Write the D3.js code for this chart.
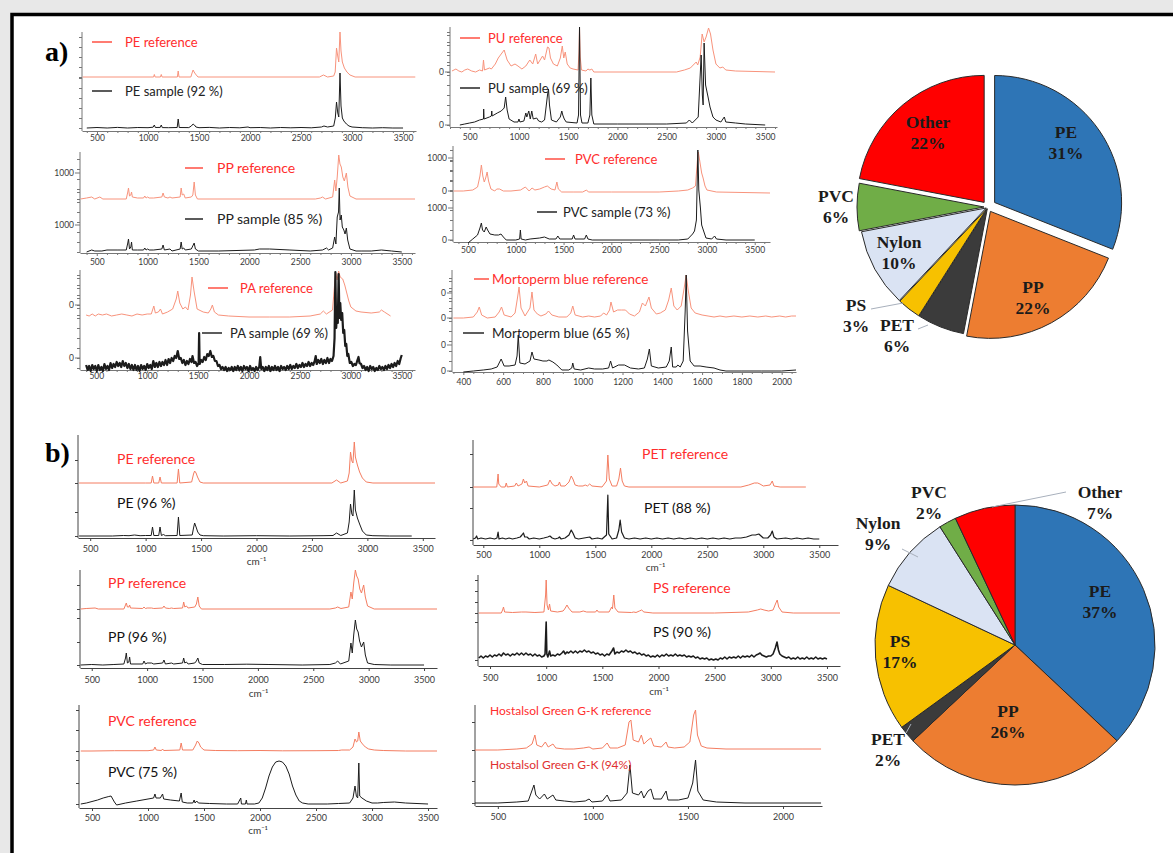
<!DOCTYPE html>
<html><head><meta charset="utf-8">
<script src="https://cdn.jsdelivr.net/npm/d3@7"></script>
<style>body{margin:0;background:#e8e8e8}svg{display:block}</style>
</head><body><svg id="c" width="1173" height="853"></svg>
<script>
// ---------------- DATA (wavenumber cm-1, relative intensity) ----------------
const xTicksFull = [500,1000,1500,2000,2500,3000,3500];
const xTicksMB = [400,600,800,1000,1200,1400,1600,1800,2000];
const xTicksHG = [500,1000,1500,2000];

const peRefA = [[360,0],[1000,0],[1055,0],[1062,2.5],[1070,0],[1122,0],[1130,2.5],[1138,0],[1288,0],[1296,6],[1304,0],[1420,0],[1432,4],[1442,7],[1452,5],[1465,3],[1490,0],[2680,0],[2720,2],[2760,0],[2820,1],[2835,5],[2848,29],[2858,22],[2870,15],[2882,45],[2892,26],[2905,15],[2925,9],[2950,5],[2980,2],[3030,0],[3620,0]];
const peSmpA = [[400,0],[500,0.5],[600,0],[700,0.6],[800,0],[900,0.5],[1000,0.3],[1050,0.8],[1062,3],[1072,0.5],[1120,0.6],[1130,3],[1140,0.4],[1200,0.3],[1286,0.5],[1296,9],[1306,0.5],[1400,0.4],[1425,2],[1442,4],[1455,3],[1470,1],[1500,0.3],[1600,0.6],[1700,0],[1800,0.5],[1900,0.2],[1980,1],[2000,0.3],[2100,0.5],[2200,0],[2300,0.5],[2400,0.2],[2500,0.5],[2600,0.2],[2700,1],[2725,2],[2760,1],[2820,2],[2836,10],[2848,26],[2860,15],[2870,11],[2882,55],[2892,22],[2905,10],[2920,7],[2945,4],[2970,2],[3000,1],[3100,0.3],[3200,0],[3300,0.3],[3400,0],[3500,0]];

const puRefA = [[320,1],[360,3],[390,1],[420,0],[450,2],[480,3],[520,1],[560,0],[600,2],[630,1],[640,12],[650,2],[700,4],[720,3],[760,8],[790,14],[820,18],[850,22],[865,17],[880,12],[920,6],[960,8],[990,6],[1030,3],[1070,6],[1110,12],[1140,8],[1170,18],[1190,8],[1215,12],[1240,16],[1260,12],[1290,25],[1305,24],[1320,14],[1350,8],[1390,6],[1420,14],[1440,26],[1455,14],[1470,20],[1490,8],[1520,4],[1550,3],[1600,2],[1610,20],[1615,45],[1622,15],[1635,2],[1680,1],[1700,3],[1720,2],[1740,3],[1760,0],[2600,0],[2680,2],[2740,4],[2780,8],[2800,10],[2815,7],[2840,15],[2860,38],[2880,30],[2900,35],[2925,44],[2945,38],[2970,22],[3000,8],[3040,4],[3070,5],[3100,2],[3200,1],[3600,0]];
const puSmpA = [[400,0],[450,1],[500,2],[550,3],[600,5],[640,6],[642,16],[646,6],[700,8],[720,9],[724,14],[728,9],[780,12],[820,14],[850,17],[865,28],[880,15],[900,6],[950,3],[990,3],[1000,6],[1010,3],[1050,4],[1070,12],[1080,8],[1100,14],[1115,6],[1130,14],[1145,6],[1180,7],[1200,4],[1230,3],[1260,5],[1290,30],[1300,36],[1310,20],[1330,5],[1380,3],[1420,8],[1435,14],[1445,10],[1460,6],[1480,3],[1590,2],[1605,10],[1615,98],[1625,10],[1640,2],[1700,2],[1720,10],[1730,47],[1740,10],[1760,1],[2000,1],[2500,1],[2700,2],[2730,5],[2760,2],[2820,8],[2850,70],[2862,30],[2870,20],[2880,82],[2895,40],[2920,28],[2940,18],[2970,8],[3000,5],[3050,3],[3085,8],[3100,3],[3200,2],[3300,1],[3500,0]];

const ppRefA = [[340,0],[400,1],[450,2],[480,0],[530,2],[560,0],[790,0],[805,7],[812,11],[822,3],[835,4],[842,7],[850,2],[900,1],[960,1],[972,3],[985,1],[1000,2],[1015,1],[1060,1],[1140,2],[1152,6],[1165,2],[1200,1],[1220,2],[1240,1],[1320,2],[1330,11],[1340,4],[1355,5],[1370,1],[1430,2],[1445,4],[1458,17],[1470,4],[1490,0],[2650,0],[2700,1],[2720,2],[2750,0],[2820,2],[2840,19],[2852,8],[2865,22],[2880,44],[2892,35],[2905,32],[2920,22],[2935,18],[2955,26],[2970,12],[2990,3],[3050,0],[3630,0]];
const ppSmpA = [[400,0],[450,2],[480,1],[550,1],[600,2],[700,2],[790,2],[805,9],[812,13],[822,3],[835,5],[842,10],[850,2],[900,2],[960,2],[972,4],[985,2],[1000,3],[1015,2],[1060,2],[1140,3],[1152,7],[1165,2],[1220,3],[1240,1],[1320,3],[1330,10],[1340,3],[1355,4],[1370,2],[1430,3],[1458,9],[1470,3],[1500,1],[1700,1],[2050,2],[2100,3],[2200,3],[2400,2],[2600,1],[2720,2],[2760,4],[2780,2],[2820,4],[2840,15],[2852,8],[2865,35],[2878,40],[2885,64],[2893,32],[2905,37],[2915,25],[2930,22],[2942,18],[2955,24],[2968,12],[2990,3],[3050,1],[3100,1],[3200,1],[3300,2],[3400,1],[3500,0]];

const pvcRefA = [[350,0],[450,0],[550,1],[600,4],[625,15],[640,26],[655,15],[670,9],[685,13],[700,19],[715,10],[740,2],[780,0],[800,2],[830,2],[870,0],[950,0],[1050,1],[1100,4],[1140,0],[1170,3],[1200,1],[1250,2],[1300,4],[1330,5],[1370,2],[1410,1],[1430,9],[1445,2],[1480,-1],[1600,-1],[1700,-1],[1740,1],[1760,-1],[2000,-1],[2500,-1],[2700,0],[2800,1],[2850,3],[2880,5],[2900,30],[2910,39],[2925,30],[2945,18],[2960,13],[2980,5],[3000,1],[3100,-1],[3660,-2]];
const pvcSmpA = [[500,-3],[550,1],[600,5],[625,12],[640,17],[652,10],[670,8],[690,13],[705,10],[730,6],[780,5],[820,5],[845,6],[870,3],[900,0],[1000,0],[1040,1],[1048,10],[1056,1],[1100,0],[1150,1],[1250,2],[1300,3],[1350,1],[1420,1],[1440,4],[1460,1],[1590,1],[1605,5],[1620,1],[1720,1],[1738,5],[1755,1],[1800,0],[2500,0],[2700,0],[2800,1],[2850,6],[2870,9],[2890,20],[2905,90],[2915,50],[2932,32],[2945,15],[2962,10],[2990,2],[3050,1],[3080,4],[3100,1],[3200,0],[3500,0]];

const paRefA = [[400,0],[430,-1],[460,1],[490,-1],[520,1],[560,0],[600,1],[650,-1],[700,0],[750,1],[800,0],[850,-1],[900,1],[950,0],[1000,1],[1040,1],[1065,9],[1080,2],[1110,3],[1130,6],[1150,1],[1200,3],[1250,6],[1285,16],[1300,24],[1320,12],[1350,6],[1375,8],[1400,5],[1425,20],[1440,38],[1460,24],[1490,6],[1550,3],[1600,2],[1625,6],[1640,10],[1660,3],[1700,0],[1800,-1],[2000,-2],[2200,-2],[2400,-2],[2600,-1],[2700,1],[2730,4],[2760,1],[2820,5],[2840,30],[2852,42],[2865,35],[2880,44],[2895,38],[2920,36],[2940,30],[2960,22],[2980,14],[3000,8],[3050,4],[3100,3],[3200,2],[3280,3],[3300,5],[3330,3],[3390,-1]];
const paSmpA = [[400,3],[415,-2],[430,2],[445,-3],[460,3],[475,-1],[490,2],[505,-3],[520,3],[535,-2],[550,1],[565,-3],[580,4],[595,-1],[610,2],[625,-2],[640,5],[655,0],[670,4],[685,1],[700,6],[715,2],[730,5],[745,1],[760,7],[775,2],[790,5],[805,0],[820,4],[835,-1],[850,3],[865,-2],[880,3],[895,-2],[910,2],[925,-3],[940,3],[955,-1],[970,2],[985,-2],[1000,4],[1015,0],[1030,3],[1045,-1],[1060,7],[1075,1],[1090,5],[1105,1],[1120,6],[1135,2],[1150,6],[1165,3],[1180,8],[1195,3],[1210,9],[1225,5],[1240,10],[1255,7],[1270,12],[1285,10],[1300,17],[1315,9],[1330,10],[1345,5],[1360,8],[1375,3],[1390,7],[1405,4],[1420,9],[1435,6],[1445,12],[1460,5],[1475,6],[1490,2],[1505,5],[1510,35],[1515,4],[1530,8],[1545,6],[1560,11],[1575,8],[1590,14],[1605,12],[1620,17],[1635,11],[1650,12],[1665,7],[1680,7],[1695,2],[1710,3],[1725,-1],[1740,1],[1755,-2],[1770,1],[1785,-3],[1800,0],[1815,-2],[1830,1],[1845,-3],[1860,1],[1875,-2],[1890,2],[1905,-2],[1920,1],[1935,-3],[1950,2],[1965,-1],[1980,1],[1995,-3],[2010,2],[2025,-2],[2040,0],[2055,-3],[2070,1],[2085,-2],[2100,1],[2110,11],[2120,-1],[2135,1],[2150,-3],[2165,1],[2180,-2],[2195,2],[2210,-3],[2225,1],[2240,-2],[2255,2],[2270,-2],[2285,1],[2300,-3],[2315,2],[2330,-1],[2345,1],[2360,-2],[2375,2],[2390,-1],[2405,3],[2420,-1],[2435,2],[2450,0],[2465,4],[2480,0],[2495,3],[2510,1],[2525,5],[2540,1],[2555,4],[2570,2],[2585,6],[2600,2],[2615,5],[2630,3],[2645,7],[2655,12],[2665,4],[2680,8],[2695,5],[2710,9],[2725,4],[2740,8],[2755,5],[2770,10],[2785,5],[2800,9],[2815,7],[2830,12],[2840,30],[2848,96],[2856,40],[2864,55],[2872,45],[2880,94],[2888,50],[2896,65],[2905,48],[2915,55],[2925,35],[2935,38],[2945,22],[2955,24],[2965,12],[2975,14],[2990,5],[3005,6],[3020,2],[3035,4],[3050,3],[3065,8],[3075,11],[3085,5],[3100,4],[3115,0],[3130,2],[3145,-2],[3160,1],[3175,-3],[3190,2],[3205,-1],[3220,1],[3235,-3],[3250,0],[3265,-2],[3280,2],[3295,-1],[3310,1],[3325,-2],[3340,2],[3355,-1],[3370,3],[3385,0],[3400,4],[3415,1],[3430,5],[3445,2],[3460,7],[3475,4],[3490,10],[3500,13]];

const mbRefA = [[350,0],[400,0],[450,1],[470,6],[480,11],[492,3],[520,0],[560,1],[580,6],[592,11],[605,3],[640,1],[660,5],[672,20],[680,31],[690,10],[710,2],[735,10],[745,26],[755,8],[772,4],[790,2],[815,4],[828,7],[845,3],[880,1],[920,1],[940,5],[950,12],[962,3],[1000,1],[1030,2],[1060,1],[1090,2],[1105,5],[1120,3],[1135,8],[1142,16],[1155,6],[1175,8],[1195,8],[1215,8],[1235,4],[1260,2],[1285,6],[1300,15],[1315,12],[1333,21],[1345,10],[1370,4],[1390,5],[1415,8],[1432,18],[1445,30],[1458,12],[1475,8],[1495,12],[1510,30],[1520,43],[1530,28],[1545,10],[1565,5],[1600,3],[1630,2],[1660,1],[1690,2],[1720,1],[1760,2],[1800,1],[1840,2],[1880,1],[1920,2],[1950,1],[1990,2],[2020,1],[2050,2],[2072,2]];
const mbSmpA = [[400,-1],[450,0],[500,1],[540,2],[570,4],[590,12],[605,5],[630,5],[660,6],[670,15],[676,36],[684,8],[710,7],[735,10],[745,19],[755,12],[780,11],[800,10],[820,10],[830,11],[850,9],[870,6],[895,1],[930,1],[945,3],[950,8],[957,2],[990,1],[1030,3],[1060,2],[1100,2],[1130,3],[1140,10],[1150,3],[1180,6],[1210,6],[1240,3],[1280,2],[1310,3],[1325,12],[1335,22],[1345,5],[1380,3],[1420,4],[1435,10],[1445,24],[1452,4],[1470,4],[1478,6],[1490,4],[1505,10],[1515,60],[1520,96],[1527,40],[1540,10],[1560,5],[1590,5],[1620,4],[1660,3],[1690,1],[1720,0],[1800,0],[1900,0],[2000,0],[2072,1]];

const peRefB = [[400,0],[1000,0],[1050,0],[1062,7],[1074,0],[1118,0],[1130,6],[1142,0],[1284,0],[1296,14],[1308,0],[1415,1],[1432,9],[1442,12],[1455,10],[1468,6],[1490,1],[1520,0],[2680,0],[2722,3],[2760,0],[2820,2],[2836,10],[2848,31],[2860,22],[2870,20],[2882,41],[2892,26],[2910,18],[2930,11],[2955,5],[2990,1],[3050,0],[3610,0]];
const peSmpB = [[400,0],[700,0],[800,0.5],[850,0.3],[900,1],[950,0.3],[1000,0.5],[1050,0.5],[1062,9],[1074,0.5],[1118,0.5],[1130,9],[1142,0.5],[1160,1.5],[1180,0.3],[1284,0.5],[1296,19],[1308,0.5],[1420,1],[1432,8],[1442,13],[1455,9],[1470,4],[1490,1],[1520,0.3],[1700,0],[2000,0.3],[2300,0],[2600,0.3],[2690,0.5],[2722,3],[2760,0.5],[2820,3],[2836,14],[2848,32],[2860,22],[2870,20],[2882,46],[2892,26],[2910,18],[2930,12],[2955,5],[2990,1],[3050,0.3],[3200,0],[3400,0]];

const petRefB = [[410,0],[620,0],[626,6],[632,13],[638,3],[660,0],[695,0],[705,4],[715,0],[780,1],[795,4],[810,1],[845,3],[858,8],[870,4],[885,6],[900,1],[1000,0],[1075,2],[1095,7],[1115,3],[1140,1],[1170,2],[1180,5],[1192,1],[1230,1],[1265,5],[1285,11],[1300,8],[1320,2],[1350,1],[1390,1],[1410,2],[1430,1],[1450,3],[1470,1],[1560,0],[1600,6],[1612,32],[1625,8],[1650,1],[1690,1],[1710,8],[1725,19],[1740,6],[1760,1],[1800,0],[2800,0],[2870,2],[2920,4],[2950,4],[2970,3],[3000,1],[3060,2],[3080,6],[3095,1],[3150,0],[3380,0]];
const petSmpB = [[410,1],[430,2],[440,4],[450,1],[480,2],[520,1],[560,2],[600,1],[622,2],[632,8],[640,1],[670,2],[700,1],[730,2],[760,1],[800,2],[830,3],[845,5],[858,7],[870,3],[890,3],[910,1],[950,2],[1000,1],[1040,2],[1075,3],[1095,4],[1115,2],[1140,1],[1170,2],[1180,3],[1195,1],[1230,2],[1265,5],[1285,10],[1300,7],[1320,2],[1350,1],[1400,2],[1450,3],[1470,1],[1520,2],[1560,1],[1600,5],[1612,45],[1620,6],[1650,1],[1690,2],[1710,10],[1722,20],[1735,8],[1760,2],[1800,1],[1850,2],[1900,1],[1950,2],[2000,1],[2050,2],[2100,1],[2150,2],[2200,1],[2250,2],[2300,1],[2350,2],[2400,1],[2450,2],[2500,1],[2550,2],[2600,1],[2650,2],[2700,1],[2750,2],[2800,2],[2850,3],[2900,5],[2930,5],[2960,6],[2980,4],[3000,2],[3040,2],[3065,5],[3080,9],[3095,3],[3120,1],[3200,2],[3250,1],[3300,2],[3350,1],[3400,2],[3450,1],[3500,1]];

const ppRefB = [[400,0],[450,0.5],[530,1],[560,0],[790,0],[805,4],[812,6],[822,2],[835,2],[842,4],[850,1],[960,0.5],[972,2],[985,0.5],[1000,1],[1040,1],[1060,0.5],[1140,1],[1152,3],[1165,1],[1200,0.5],[1220,1],[1240,0.5],[1320,1],[1330,7],[1340,2],[1355,3],[1370,1],[1430,2],[1445,5],[1458,12],[1470,3],[1490,0],[2650,0],[2700,1],[2720,2],[2750,0.5],[2820,2],[2840,17],[2852,10],[2865,26],[2880,39],[2892,33],[2905,30],[2920,20],[2935,16],[2955,24],[2970,12],[2990,3],[3050,0],[3617,0]];
const ppSmpB = [[400,0],[500,0.5],[600,0],[700,0.5],[790,1],[805,7],[812,12],[822,2],[835,3],[842,8],[850,1],[960,1],[972,4],[985,1],[1000,2],[1040,2],[1060,1],[1140,2],[1152,5],[1165,1],[1220,2],[1240,1],[1320,2],[1330,7],[1340,2],[1355,3],[1370,1],[1430,2],[1445,4],[1458,7],[1470,2],[1500,0.5],[1700,0.5],[1900,0.8],[2100,0.5],[2400,0],[2650,0.5],[2700,2],[2720,4],[2745,1],[2820,4],[2840,22],[2852,12],[2865,30],[2880,45],[2892,36],[2905,33],[2918,24],[2935,18],[2955,23],[2970,10],[2990,2],[3050,0.5],[3200,0],[3500,0]];

const psRefB = [[400,0],[600,0],[612,3],[620,6],[630,1],[700,0.5],[780,1],[820,1],[900,0.5],[980,1],[995,18],[1000,33],[1008,8],[1020,3],[1030,9],[1040,2],[1100,1],[1150,2],[1158,3],[1170,5],[1185,8],[1200,5],[1230,1],[1300,1],[1330,2],[1360,1],[1440,1],[1452,3],[1465,1],[1560,1],[1583,6],[1590,4],[1602,18],[1612,5],[1640,1],[1760,0.5],[1780,1],[1800,0.5],[1830,2],[1850,3],[1870,1],[1950,0],[2500,0],[2800,1],[2880,3],[2910,4],[2940,3],[2980,2],[3020,3],[3045,10],[3057,13],[3070,6],[3100,1],[3200,0],[3616,0]];
const psSmpB = [[400,2],[420,4],[440,2],[460,4],[480,3],[500,5],[520,3],[540,5],[560,4],[580,6],[600,4],[620,7],[640,5],[660,6],[680,4],[700,6],[720,5],[740,7],[760,5],[780,7],[800,5],[820,7],[840,5],[860,6],[880,4],[900,6],[920,4],[940,5],[960,3],[980,4],[990,6],[1000,38],[1006,6],[1015,3],[1030,9],[1040,4],[1060,5],[1080,4],[1100,6],[1120,5],[1140,7],[1155,9],[1170,6],[1185,8],[1200,7],[1220,9],[1240,7],[1260,9],[1280,7],[1300,9],[1320,8],[1340,10],[1360,8],[1380,9],[1400,7],[1420,8],[1440,6],[1460,7],[1480,5],[1500,6],[1520,4],[1540,6],[1560,5],[1585,9],[1600,12],[1612,6],[1630,8],[1650,7],[1670,9],[1690,8],[1710,10],[1730,8],[1750,9],[1770,7],[1790,8],[1810,6],[1830,7],[1850,5],[1870,6],[1890,4],[1910,5],[1930,3],[1950,4],[1970,3],[1990,5],[2010,3],[2030,5],[2050,4],[2070,6],[2090,4],[2110,5],[2130,4],[2150,6],[2170,4],[2190,5],[2210,4],[2230,5],[2250,3],[2270,4],[2290,3],[2310,4],[2330,2],[2350,3],[2370,1],[2390,2],[2410,1],[2430,2],[2450,0],[2470,1],[2490,0],[2510,1],[2530,0],[2550,2],[2570,1],[2590,3],[2610,1],[2630,3],[2650,2],[2670,3],[2690,2],[2710,4],[2730,2],[2750,4],[2770,3],[2790,4],[2810,3],[2830,5],[2850,3],[2870,5],[2890,6],[2905,7],[2920,5],[2940,4],[2960,3],[2980,4],[3000,4],[3020,6],[3040,12],[3055,18],[3068,10],[3080,6],[3100,4],[3120,3],[3140,2],[3160,3],[3180,1],[3200,2],[3220,1],[3240,3],[3260,1],[3280,2],[3300,1],[3320,3],[3340,1],[3360,2],[3380,1],[3400,3],[3420,1],[3440,2],[3460,1],[3480,2],[3500,1]];

const pvcRefB = [[400,0],[500,0],[700,0.3],[1000,0.3],[1050,1],[1062,4],[1074,1],[1120,0.5],[1130,2],[1140,0.5],[1284,1],[1296,8],[1308,1],[1400,1],[1425,6],[1440,10],[1455,8],[1470,4],[1500,1],[1600,0.5],[1800,0.3],[2000,0.5],[2200,0.2],[2500,0.3],[2700,0.5],[2730,1],[2800,1],[2830,4],[2848,12],[2862,9],[2872,10],[2882,19],[2895,10],[2915,7],[2940,4],[2970,2],[3020,1],[3100,0.5],[3300,0],[3580,0]];
const pvcSmpB = [[400,0],[450,1],[500,2.5],[550,4],[600,6],[650,7.5],[670,8],[700,2],[720,-1],[800,1],[900,3],[1000,5],[1050,6],[1062,10],[1072,6],[1110,6],[1130,10],[1140,5],[1200,4],[1280,3],[1296,11],[1306,2],[1350,1],[1400,1],[1412,4],[1420,1],[1435,3],[1450,1],[1550,0.5],[1700,0],[1800,0],[1828,6],[1834,0],[1870,0],[1878,4],[1884,0],[1950,0],[1990,1],[2020,6],[2050,16],[2080,28],[2110,37],[2140,42],[2170,43],[2200,42],[2230,38],[2260,30],[2290,18],[2320,9],[2350,3],[2380,1],[2430,0],[2600,0],[2700,0.5],[2800,1],[2830,6],[2848,18],[2860,8],[2872,6],[2882,41],[2890,8],[2910,6],[2950,3],[3000,1],[3050,1],[3100,1.5],[3200,2],[3300,1],[3500,0]];

const hgRefB = [[380,0],[500,0],[600,1],[650,2],[680,6],[695,15],[705,5],[730,3],[750,8],[765,3],[790,6],[805,2],[850,1],[900,1],[950,2],[980,3],[1000,1],[1050,2],[1075,7],[1090,2],[1130,2],[1170,5],[1190,28],[1200,30],[1212,10],[1240,8],[1255,15],[1268,6],[1290,10],[1305,12],[1320,4],[1360,3],[1385,8],[1395,3],[1430,2],[1480,3],[1510,8],[1530,35],[1540,40],[1550,15],[1570,4],[1600,2],[1700,1],[1800,1],[1900,1],[2000,1],[2100,1],[2200,1]];
const hgSmpB = [[380,0],[500,0],[600,1],[660,2],[690,18],[700,8],[720,4],[745,9],[760,4],[790,8],[805,3],[850,2],[900,1],[960,2],[980,4],[995,1],[1050,2],[1075,8],[1090,2],[1150,3],[1180,10],[1195,38],[1208,10],[1240,8],[1255,12],[1268,5],[1290,12],[1305,14],[1320,4],[1360,4],[1385,12],[1395,3],[1450,3],[1500,5],[1525,20],[1540,43],[1552,12],[1580,3],[1650,1],[1800,0],[2000,0],[2200,0]];

const pieACategories = ["PE","PP","PET","PS","Nylon","PVC","Other"];
const pieAValues = [31,22,6,3,10,6,22];
const pieBCategories = ["PE","PP","PET","PS","Nylon","PVC","Other"];
const pieBValues = [37,26,2,17,9,2,7];

// ---------------- STYLE / LAYOUT ----------------
const FONT = "Lato, 'Open Sans', sans-serif";
const SERIF = "'Liberation Serif', 'Times New Roman', serif";
const REF_A = "#f8937c", REF_B = "#f47d61", SMP = "#1c1c1c", LEG_RED = "#ff2d2d";
const pieColors = {PE:"#2e75b6",PP:"#ed7d31",PET:"#3b3b3b",PS:"#f7c100",Nylon:"#dae3f3",PVC:"#70ad47",Other:"#ff0000"};

const svg = d3.select("#c");
svg.append("rect").attr("width",1173).attr("height",853).attr("fill","#e8e8e8");
svg.append("rect").attr("x",12).attr("y",14).attr("width",1161).attr("height",839).attr("fill","#ffffff");
svg.append("path").attr("d","M12,853 V14.5 H1173").attr("fill","none").attr("stroke","#000").attr("stroke-width",3.5);

function drawPanel(c){
  const g = svg.append("g");
  const x = d3.scaleLinear().domain(c.xd).range(c.xr);
  const axc = c.axc || "#777";
  const ax = g.append("g").attr("transform",`translate(0,${c.axY})`)
    .call(d3.axisBottom(x).tickValues(c.xt).tickSize(3).tickSizeOuter(0).tickFormat(d3.format("d")));
  ax.select(".domain").attr("stroke",axc);
  ax.selectAll(".tick line").attr("stroke",axc);
  ax.selectAll("text").attr("y",c.lblY-c.axY).attr("dy","0.35em").attr("font-size",c.fs).attr("fill","#3a3a3a").attr("font-family",FONT);
  if(c.minor){
    const mv = d3.range(Math.ceil(c.xd[0]/c.minor)*c.minor, c.xd[1], c.minor).filter(v=>!c.xt.includes(v));
    const mx = g.append("g").attr("transform",`translate(0,${c.axY})`).call(d3.axisBottom(x).tickValues(mv).tickSize(2).tickFormat(""));
    mx.select(".domain").remove(); mx.selectAll("line").attr("stroke",axc);
  }
  if(c.cmY){
    g.append("text").attr("x",(c.xr[0]+c.xr[1])/2).attr("y",c.cmY).attr("dy","0.35em").attr("text-anchor","middle")
     .attr("font-size",c.fs+1).attr("font-family",FONT).attr("fill","#333").text("cm\u207B\u00B9");
  }
  g.append("line").attr("x1",c.xr[0]).attr("x2",c.xr[0]).attr("y1",c.yTop).attr("y2",c.axY).attr("stroke",axc);
  c.traces.forEach(t=>{
    const y = d3.scaleLinear().domain([0, d3.max(t.d,d=>d[1])]).range([t.base, t.top]);
    const tv = t.ticks || y.ticks(Math.max(2, Math.round((t.base-t.top)/8)));
    const ay = g.append("g").attr("transform",`translate(${c.xr[0]},0)`).call(d3.axisLeft(y).tickValues(tv).tickSize(3).tickFormat(""));
    ay.select(".domain").remove(); ay.selectAll("line").attr("stroke",axc);
    (t.labels||[]).forEach(l=>{
      g.append("line").attr("x1",c.xr[0]-5).attr("x2",c.xr[0]).attr("y1",y(l.v)).attr("y2",y(l.v)).attr("stroke",axc);
      g.append("text").attr("x",c.xr[0]-6).attr("y",y(l.v)).attr("dy","0.35em").attr("text-anchor","end")
       .attr("font-size",c.fs).attr("font-family",FONT).attr("fill","#3a3a3a").text(l.t);
    });
    const line = d3.line().x(d=>x(d[0])).y(d=>y(d[1]));
    g.append("path").datum(t.d).attr("d",line).attr("fill","none").attr("stroke",t.color).attr("stroke-width",t.sw||1).attr("stroke-linejoin","round");
  });
  (c.legends||[]).forEach(l=>{
    if(l.line) g.append("line").attr("x1",l.line[0]).attr("x2",l.line[1]).attr("y1",l.y).attr("y2",l.y).attr("stroke",l.lc).attr("stroke-width",1.6);
    g.append("text").attr("x",l.x).attr("y",l.y).attr("dy","0.35em").attr("font-size",l.fs||13).attr("font-family",FONT)
     .attr("fill",l.color).text(l.t);
  });
}

const panels = [
 {xd:[353,3627],xr:[82,416],axY:131,lblY:138.5,fs:8.5,minor:100,yTop:32,xt:xTicksFull,
  traces:[{d:peRefA,base:77,top:32,color:REF_A},{d:peSmpA,base:128,top:73,color:SMP}],
  legends:[{t:"PE reference",x:125,y:42,color:LEG_RED,line:[92,112],lc:"#ff5b4f"},{t:"PE sample (92 %)",x:125,y:91,color:"#222",line:[92,112],lc:"#333"}]},
 {xd:[300,3620],xr:[450,777],axY:127,lblY:137,fs:8.5,minor:100,yTop:27,xt:xTicksFull,
  traces:[{d:puRefA,base:72,top:27,color:REF_A,labels:[{v:0,t:"0"}]},{d:puSmpA,base:125,top:27,color:SMP,labels:[{v:0,t:"0"}]}],
  legends:[{t:"PU reference",x:488,y:38,color:LEG_RED,line:[460,480],lc:"#ff5b4f"},{t:"PU sample (69 %)",x:488,y:88,color:"#222",line:[460,480],lc:"#333"}]},
 {xd:[335,3630],xr:[80,415],axY:253,lblY:262,fs:8.5,minor:100,yTop:152,xt:xTicksFull,
  traces:[{d:ppRefA,base:199,top:155,color:REF_A,labels:[{v:26,t:"1000"}]},{d:ppSmpA,base:252,top:188,color:SMP,labels:[{v:27,t:"1000"}]}],
  legends:[{t:"PP reference",x:217,y:168,color:LEG_RED,line:[185,203],lc:"#ff5b4f",fs:14},{t:"PP sample (85 %)",x:217,y:219,color:"#222",line:[185,203],lc:"#333",fs:14}]},
 {xd:[343,3660],xr:[453,770],axY:242,lblY:250,fs:8.5,minor:100,yTop:146,xt:xTicksFull,
  traces:[{d:pvcRefA,base:191,top:152,color:REF_A,labels:[{v:0,t:"0"},{v:33,t:"1000"}]},{d:pvcSmpA,base:240,top:150,color:SMP,labels:[{v:0,t:"0"},{v:32,t:"1000"}]}],
  legends:[{t:"PVC reference",x:575,y:159,color:LEG_RED,line:[545,565],lc:"#ff5b4f"},{t:"PVC sample (73 %)",x:563,y:212,color:"#222",line:[537,557],lc:"#333"}]},
 {xd:[340,3630],xr:[80,415],axY:370,lblY:376,fs:8.5,minor:100,yTop:270,xt:xTicksFull,
  traces:[{d:paRefA,base:315,top:271,color:REF_A,labels:[{v:10,t:"0"}]},{d:paSmpA,base:368,top:272,color:SMP,sw:2.2,labels:[{v:10,t:"0"}]}],
  legends:[{t:"PA reference",x:240,y:288,color:LEG_RED,line:[208,228],lc:"#ff5b4f"},{t:"PA sample (69 %)",x:230,y:333,color:"#222",line:[202,222],lc:"#333"}]},
 {xd:[343,2072],xr:[452,796],axY:372,lblY:382,fs:8.5,minor:50,yTop:270,xt:xTicksMB,
  traces:[{d:mbRefA,base:318,top:275,color:REF_A,labels:[{v:0,t:"0"},{v:25,t:"0"}]},{d:mbSmpA,base:371,top:275,color:SMP,labels:[{v:0,t:"0"},{v:26,t:"0"}]}],
  legends:[{t:"Mortoperm blue reference",x:492,y:279,color:LEG_RED,line:[474,489],lc:"#ff5b4f",fs:13.5},{t:"Mortoperm blue  (65 %)",x:492,y:333,color:"#222",line:[463,484],lc:"#333",fs:13.5}]},
 {xd:[390,3610],xr:[78,435],axY:538,lblY:549,cmY:561,fs:9,yTop:435,xt:xTicksFull,axc:"#444",
  traces:[{d:peRefB,base:483,top:442,color:REF_B,ticks:[0,23]},{d:peSmpB,base:536,top:490,color:SMP,ticks:[0,24]}],
  legends:[{t:"PE reference",x:117,y:459,color:LEG_RED,fs:14},{t:"PE (96 %)",x:117,y:503,color:"#111",fs:14}]},
 {xd:[408,3667],xr:[473,838],axY:545,lblY:555,cmY:567,fs:9,yTop:440,xt:xTicksFull,axc:"#444",
  traces:[{d:petRefB,base:487,top:455,color:REF_B,ticks:[0,33]},{d:petSmpB,base:540,top:495,color:SMP,sw:1.2,ticks:[0,32]}],
  legends:[{t:"PET reference",x:642,y:454,color:LEG_RED,fs:14},{t:"PET (88 %)",x:644,y:508,color:"#111",fs:14}]},
 {xd:[394,3617],xr:[80,437],axY:668,lblY:680,cmY:693,fs:9,yTop:570,xt:xTicksFull,axc:"#444",
  traces:[{d:ppRefB,base:609,top:570,color:REF_B,ticks:[0,24]},{d:ppSmpB,base:665,top:620,color:SMP,ticks:[0,23,47]}],
  legends:[{t:"PP reference",x:108,y:583,color:LEG_RED,fs:14},{t:"PP (96 %)",x:108,y:637,color:"#111",fs:14}]},
 {xd:[393,3616],xr:[478,840],axY:666,lblY:678,cmY:691,fs:9,yTop:575,xt:xTicksFull,axc:"#444",
  traces:[{d:psRefB,base:613,top:580,color:REF_B,ticks:[0,11,22,33]},{d:psSmpB,base:660,top:622,color:SMP,sw:1.6,ticks:[0,38]}],
  legends:[{t:"PS reference",x:653,y:588,color:LEG_RED,fs:14},{t:"PS (90 %)",x:653,y:632,color:"#111",fs:14}]},
 {xd:[384,3580],xr:[79,437],axY:808,lblY:818,cmY:830,fs:9,yTop:705,xt:xTicksFull,axc:"#444",
  traces:[{d:pvcRefB,base:751,top:732,color:REF_B,ticks:[0,21,41]},{d:pvcSmpB,base:804,top:761,color:SMP,ticks:[0,21,44]}],
  legends:[{t:"PVC reference",x:108,y:721,color:LEG_RED,fs:14},{t:"PVC (75 %)",x:108,y:772,color:"#111",fs:14}]},
 {xd:[380,2205],xr:[475,822],axY:806,lblY:817,fs:9,yTop:705,xt:xTicksHG,axc:"#444",
  traces:[{d:hgRefB,base:750,top:710,color:REF_B,ticks:[0,28]},{d:hgSmpB,base:803,top:760,color:SMP,ticks:[0,22]}],
  legends:[{t:"Hostalsol Green G-K reference",x:490,y:711,color:LEG_RED,fs:12},{t:"Hostalsol Green G-K (94%)",x:490,y:765,color:"#e03030",fs:12}]}
];
panels.forEach(drawPanel);

svg.append("text").attr("x",45).attr("y",61).attr("font-family",SERIF).attr("font-weight","bold").attr("font-size",28).text("a)");
svg.append("text").attr("x",45).attr("y",462).attr("font-family",SERIF).attr("font-weight","bold").attr("font-size",28).text("b)");

function drawPie(cats, vals, cx, cy, r, explode, labels, leaders){
  const g = svg.append("g");
  const arcs = d3.pie().sort(null).value(d=>d)(vals);
  const arc = d3.arc().innerRadius(0).outerRadius(r);
  arcs.forEach((a,i)=>{
    const mid=(a.startAngle+a.endAngle)/2, off=explode[i];
    g.append("path").attr("d",arc(a)).attr("transform",`translate(${cx+off*Math.sin(mid)},${cy-off*Math.cos(mid)})`)
     .attr("fill",pieColors[cats[i]]).attr("stroke","#2a2a2a").attr("stroke-width",1).attr("stroke-linejoin","round");
  });
  leaders.forEach(l=>g.append("line").attr("x1",l[0]).attr("y1",l[1]).attr("x2",l[2]).attr("y2",l[3]).attr("stroke","#a8b0bc").attr("stroke-width",1));
  labels.forEach((p,i)=>{
    const t = g.append("text").attr("font-family",SERIF).attr("font-weight","bold").attr("font-size",17.5).attr("fill","#1b1b1b").attr("text-anchor","middle");
    t.append("tspan").attr("x",p[0]).attr("y",p[1]).attr("dy","0.35em").text(cats[i]);
    t.append("tspan").attr("x",p[0]).attr("y",p[1]+21).attr("dy","0.35em").text(vals[i]+"%");
  });
}
drawPie(pieACategories, pieAValues, 988, 207, 127, [8,5,2,2,2,4,6],
  [[1066,132],[1033,287],[897,325],[856,305],[899,242],[836,196],[928,122]],
  [[871,309,903,303],[918,329,928,325]]);
drawPie(pieBCategories, pieBValues, 1015, 645, 140, [0,0,0,0,0,0,0],
  [[1100,591],[1008,711],[888,739],[900,641],[878,523],[929,492],[1100,492]],
  [[1066,492,992,507],[902,549,918,557],[906,733,911,724]]);
</script></body></html>
